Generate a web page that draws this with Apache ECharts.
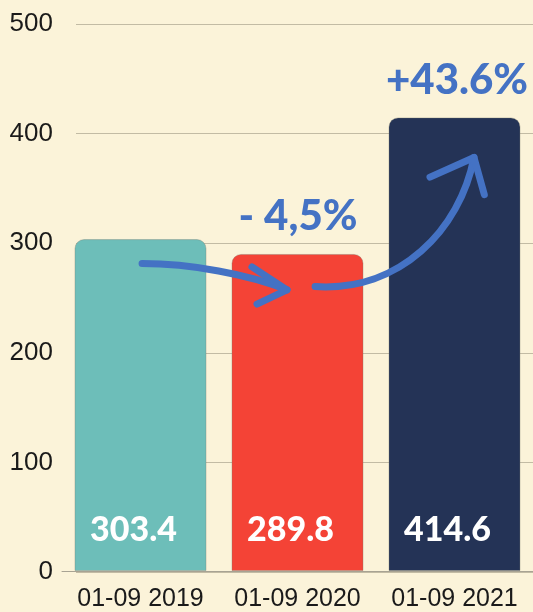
<!DOCTYPE html>
<html>
<head>
<meta charset="utf-8">
<script src="https://cdn.jsdelivr.net/npm/echarts@6/dist/echarts.min.js"></script>
<style>
  html, body { margin: 0; padding: 0; background: #fbf3d9; }
  #chart { width: 533px; height: 612px; }
</style>
</head>
<body>
<div id="chart"></div>
<script>
// data
var categories = ['01-09 2019', '01-09 2020', '01-09 2021'];
var values = [303.4, 289.8, 414.6];
var barColors = ['#6dbeb9', '#f44336', '#243356'];
var yTicks = [0, 100, 200, 300, 400, 500];

// annotation arrows, in data units (x = category index, y = value)
var arrowDown = [[0.01, 281], [0.315, 281], [0.697, 271], [0.933, 257]];
var arrowDownHead = [[0.71, 278], [0.933, 257], [0.742, 244]];
var arrowUp = [[1.112, 260], [1.653, 255], [2.035, 312], [2.124, 378]];
var arrowUpHead = [[1.844, 360], [2.124, 378], [2.19, 344]];
var notes = [
  { text: '- 4,5%', at: [1.003, 324] },
  { text: '+43.6%', at: [2.016, 448] }
];

var chart = echarts.init(document.getElementById('chart'));
var blue = '#4472c4';

function arrowPath(api, curve, head) {
  var p = curve.map(function (d) { return api.coord(d); });
  var h = head.map(function (d) { return api.coord(d); });
  return [
    {
      type: 'bezierCurve',
      shape: { x1: p[0][0], y1: p[0][1], cpx1: p[1][0], cpy1: p[1][1], cpx2: p[2][0], cpy2: p[2][1], x2: p[3][0], y2: p[3][1] },
      style: { stroke: blue, lineWidth: 7, fill: null, lineCap: 'round' }
    },
    {
      type: 'polyline',
      shape: { points: h },
      style: { stroke: blue, lineWidth: 7, fill: null, lineCap: 'round', lineJoin: 'round' }
    }
  ];
}

chart.setOption({
  backgroundColor: '#fbf3d9',
  animation: false,
  grid: [
    { left: 62, right: 0, top: 24, bottom: 40 },
    { left: 76, right: 0, top: 24, bottom: 40 }
  ],
  xAxis: [
    {
      type: 'category', gridIndex: 0, data: categories,
      axisTick: { show: false },
      axisLine: { lineStyle: { color: '#a8a393', width: 1 } },
      axisLabel: {
        color: '#1a1a1a', fontSize: 25, fontFamily: 'Liberation Sans', margin: 16,
        interval: 0, hideOverlap: false
      }
    },
    { type: 'value', gridIndex: 0, min: -0.5, max: 2.5, show: false },
    { type: 'value', gridIndex: 1, min: 0, max: 1, show: false }
  ],
  yAxis: [
    { type: 'value', gridIndex: 0, min: 0, max: 500, interval: 100, show: false },
    {
      type: 'value', gridIndex: 1, min: 0, max: 500, interval: 100,
      axisLine: { show: false }, axisTick: { show: false },
      axisLabel: {
        color: '#1a1a1a', fontSize: 26, fontFamily: 'Liberation Sans', margin: 23,
        formatter: function (v) { return yTicks.indexOf(v) >= 0 ? String(v) : ''; }
      },
      splitLine: { lineStyle: { color: '#c2bba4', width: 1 } }
    }
  ],
  series: [
    {
      type: 'bar', xAxisIndex: 0, yAxisIndex: 0, z: 3,
      barWidth: 132,
      data: values.map(function (v, i) {
        return { value: v, itemStyle: { color: barColors[i] } };
      }),
      itemStyle: { borderRadius: [9, 9, 0, 0], borderColor: 'rgba(120,120,110,0.35)', borderWidth: 1 },
      label: {
        show: true, position: 'insideBottom', distance: 24, offset: [-7, 0],
        color: '#ffffff', fontSize: 34, fontWeight: 900, fontFamily: 'Lato',
        formatter: function (p) { return p.value.toFixed(1); }
      }
    },
    {
      type: 'custom', xAxisIndex: 1, yAxisIndex: 0, z: 10,
      data: [0],
      renderItem: function (params, api) {
        var children = []
          .concat(arrowPath(api, arrowDown, arrowDownHead))
          .concat(arrowPath(api, arrowUp, arrowUpHead));
        notes.forEach(function (n) {
          var c = api.coord(n.at);
          children.push({
            type: 'text',
            style: {
              text: n.text, x: c[0], y: c[1], align: 'center', verticalAlign: 'middle',
              fill: blue, font: '900 42px Lato'
            }
          });
        });
        return { type: 'group', children: children };
      }
    }
  ]
});
</script>
</body>
</html>
